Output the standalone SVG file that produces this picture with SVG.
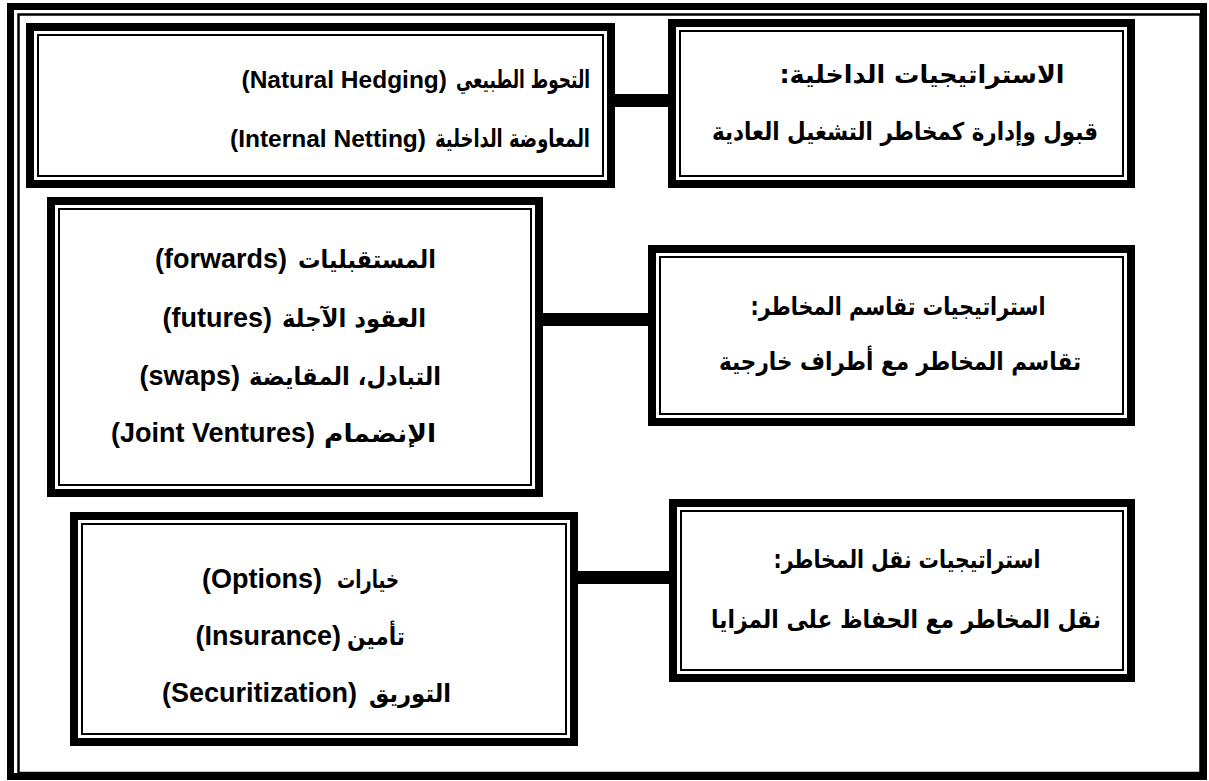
<svg xmlns="http://www.w3.org/2000/svg" width="1209" height="781" viewBox="0 0 1209 781">
  <style>
    .thick { fill: none; stroke: #000; stroke-width: 8; }
    .thin { fill: none; stroke: #000; stroke-width: 2; }
    .bar { fill: #000; }
    .lat { font-family: "Liberation Sans", Arial, sans-serif; font-weight: bold; font-size: 27px; fill: #000; text-anchor: end; }
    .sm { font-size: 24.5px; }
    .ar { font-family: "DejaVu Sans", "Liberation Sans", sans-serif; font-weight: bold; font-size: 24.5px; fill: #000; }
    .ae { text-anchor: end; direction: ltr; }
    .am { text-anchor: middle; direction: rtl; }
  </style>
  <rect x="0" y="0" width="1209" height="781" fill="#fff"/>
  <g id="frame">
    <rect x="10.5" y="6.5" width="1193" height="770" fill="none" stroke="#000" stroke-width="7"/>
    <rect x="18.5" y="14.5" width="1182" height="758.5" fill="none" stroke="#000" stroke-width="2.5"/>
  </g>
  <g id="connectors">
    <rect class="bar" x="612" y="94" width="60" height="13"/>
    <rect class="bar" x="540" y="313" width="112" height="13"/>
    <rect class="bar" x="575" y="571" width="98" height="13"/>
  </g>
  <g id="node-natural-hedging">
    <rect class="thick" x="30" y="27" width="581" height="157"/>
    <rect class="thin" x="38" y="35" width="565" height="141"/>
    <text class="ar ae" x="590" y="88" textLength="134" lengthAdjust="spacingAndGlyphs">التحوط الطبيعي</text>
    <text class="lat sm" x="447" y="88">(Natural Hedging)</text>
    <text class="ar ae" x="590" y="147" textLength="155" lengthAdjust="spacingAndGlyphs">المعاوضة الداخلية</text>
    <text class="lat sm" x="426" y="147">(Internal Netting)</text>
  </g>
  <g id="node-internal">
    <rect class="thick" x="672" y="23" width="459" height="161"/>
    <rect class="thin" x="680" y="31" width="443" height="145"/>
    <text class="ar am" x="922" y="83" textLength="285" lengthAdjust="spacingAndGlyphs">الاستراتيجيات الداخلية:</text>
    <text class="ar am" x="905" y="140" textLength="386" lengthAdjust="spacingAndGlyphs">قبول وإدارة كمخاطر  التشغيل العادية</text>
  </g>
  <g id="node-derivatives">
    <rect class="thick" x="51" y="201" width="488" height="292"/>
    <rect class="thin" x="59" y="209" width="472" height="276"/>
    <text class="ar ae" x="436" y="268" textLength="138" lengthAdjust="spacingAndGlyphs">المستقبليات</text>
    <text class="lat" x="287" y="268">(forwards)</text>
    <text class="ar ae" x="426" y="327" textLength="144" lengthAdjust="spacingAndGlyphs">العقود الآجلة</text>
    <text class="lat" x="272" y="327">(futures)</text>
    <text class="ar ae" x="441" y="385" textLength="192" lengthAdjust="spacingAndGlyphs">التبادل، المقايضة</text>
    <text class="lat" x="240" y="385">(swaps)</text>
    <text class="ar ae" x="436" y="442" textLength="112" lengthAdjust="spacingAndGlyphs">الإنضمام</text>
    <text class="lat" x="315" y="442">(Joint Ventures)</text>
  </g>
  <g id="node-sharing">
    <rect class="thick" x="652" y="249" width="479" height="173"/>
    <rect class="thin" x="660" y="257" width="463" height="157"/>
    <text class="ar am" x="898" y="315" textLength="295" lengthAdjust="spacingAndGlyphs">استراتيجيات تقاسم المخاطر:</text>
    <text class="ar am" x="900" y="370" textLength="362" lengthAdjust="spacingAndGlyphs">تقاسم المخاطر مع أطراف خارجية</text>
  </g>
  <g id="node-options">
    <rect class="thick" x="74" y="516" width="500" height="226"/>
    <rect class="thin" x="82" y="524" width="484" height="210"/>
    <text class="ar ae" x="399" y="588" textLength="62" lengthAdjust="spacingAndGlyphs">خيارات</text>
    <text class="lat" x="322" y="588">(Options)</text>
    <text class="ar ae" x="405" y="645" textLength="58" lengthAdjust="spacingAndGlyphs">تأمين</text>
    <text class="lat" x="341" y="645">(Insurance)</text>
    <text class="ar ae" x="451" y="702" textLength="82" lengthAdjust="spacingAndGlyphs">التوريق</text>
    <text class="lat" x="357" y="702">(Securitization)</text>
  </g>
  <g id="node-transfer">
    <rect class="thick" x="673" y="503" width="458" height="175"/>
    <rect class="thin" x="681" y="511" width="442" height="159"/>
    <text class="ar am" x="907" y="568" textLength="267" lengthAdjust="spacingAndGlyphs">استراتيجيات نقل المخاطر:</text>
    <text class="ar am" x="906" y="628" textLength="390" lengthAdjust="spacingAndGlyphs">نقل المخاطر مع الحفاظ على المزايا</text>
  </g>
</svg>
